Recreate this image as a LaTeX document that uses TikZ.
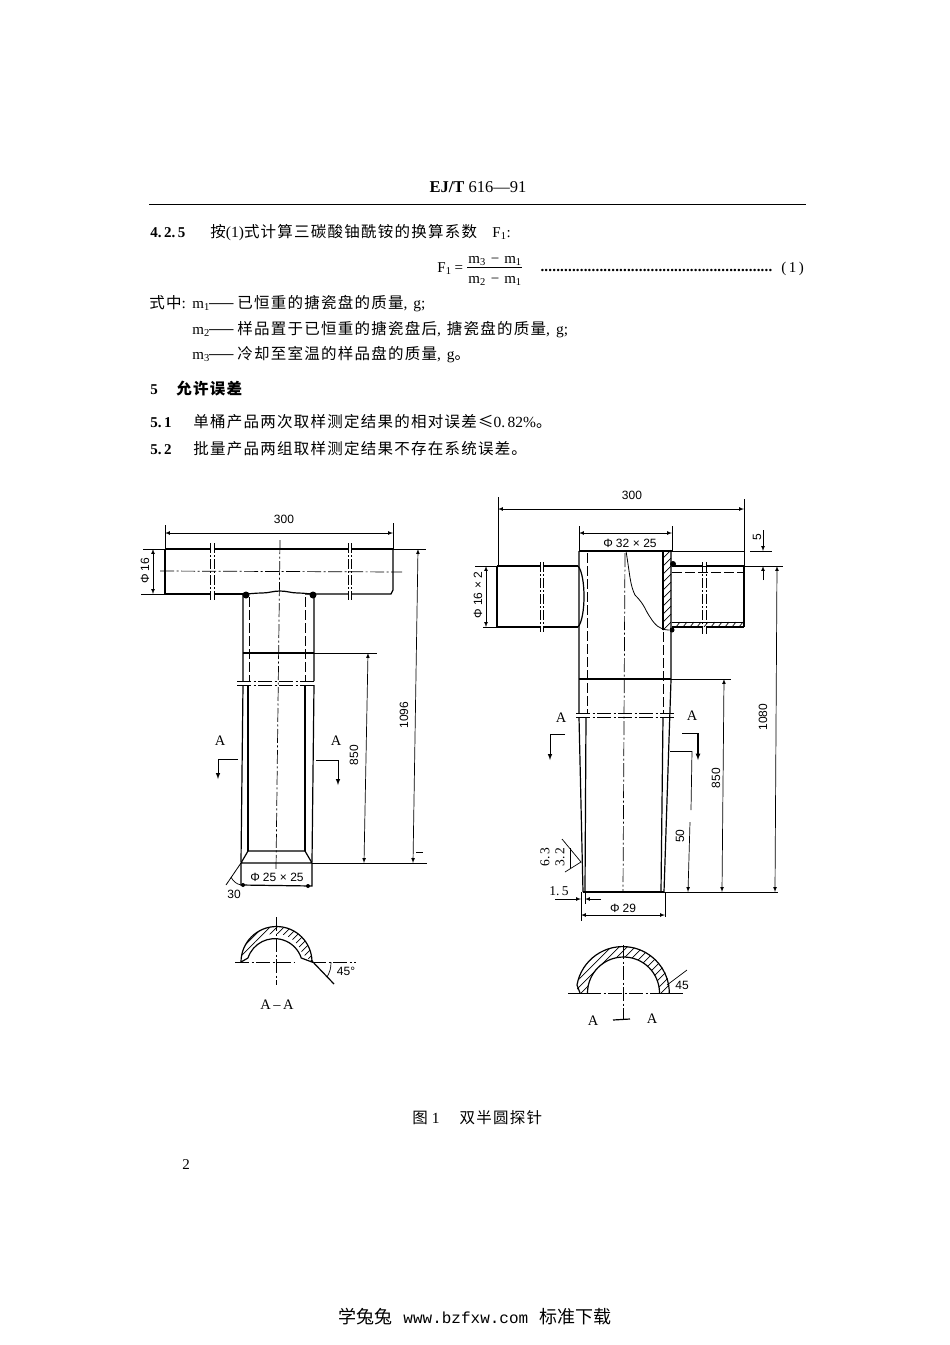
\documentclass[tikz,border=0pt]{standalone}
\usepackage{fontspec}
\setmainfont{Liberation Serif}
\setsansfont{Liberation Sans}
\setmonofont{Liberation Mono}
\newfontfamily\cjk[LetterSpace=8]{Noto Sans CJK SC}
\newfontfamily\cjkfoot{Noto Sans CJK SC}
\newcommand{\dotrow}[1]{\hbox to #1{\xleaders\hbox to 3.9pt{\hss.\hss}\hfill}}
\newcommand{\tm}{\hspace{3.5pt}×\hspace{3.5pt}}
\newcommand{\ph}{Φ\hspace{3pt}}
\newcommand{\gtail}{{\rmfamily ,\hspace{6pt}g}}
\newcommand{\smalld}[1]{{\rmfamily\fontsize{13.5}{13.5}\selectfont #1}}
\begin{document}
\begin{tikzpicture}[x=1pt,y=-1pt,line width=0.9pt]
      \tikzstyle{body}=[inner sep=0pt,anchor=base west,font=\fontsize{15.5}{15.5}\cjk]
      \tikzstyle{lat}=[inner sep=0pt,anchor=base west,font=\fontsize{15}{15}\rmfamily]
      \tikzstyle{dimtxt}=[inner sep=0pt,font=\fontsize{12}{12}\sffamily]
      \tikzstyle{seclab}=[inner sep=0pt,font=\fontsize{14.5}{14.5}\rmfamily]
      \tikzstyle{outline}=[line width=1.2pt]
      \tikzstyle{thinl}=[line width=0.7pt]
      \tikzstyle{dimline}=[line width=0.7pt,<->,>=latex]
      \tikzstyle{centre}=[line width=0.7pt,dash pattern=on 14pt off 2.5pt on 2pt off 2.5pt]
      \tikzstyle{hidden}=[line width=1pt,dash pattern=on 10pt off 3pt]
      \useasboundingbox (0,0) rectangle (950,1345);

      % page text
      \node[inner sep=0pt,font=\fontsize{16.5}{16.5}\rmfamily] (head) at (478,187) {\textbf{EJ/T} 616—91};
      \draw[line width=1pt] (149,204) -- (806,204);
      \foreach \name/\txt/\x/\y in {n425/\textbf{4.\,2.\,5}/150/237, n51/\textbf{5.\,1}/150/427, n52/\textbf{5.\,2}/150/454, n5/\textbf{5}/150/394, m1/m\textsubscript{1}/192/308, m2/m\textsubscript{2}/192/334, m3/m\textsubscript{3}/192/359, f1r/F\textsubscript{1}:/492/237, fl/F\textsubscript{1}\hspace{3pt}=/437/272, eq/(\,1\,)/781/272}
        \node[lat] (t-\name) at (\x,\y) {\txt};
      \foreach \name/\txt/\x/\y in {calc/按{\rmfamily(1)}式计算三碳酸铀酰铵的换算系数/210/237, where/式中{\rmfamily:}/149/308, w1/——\hspace{3pt}已恒重的搪瓷盘的质量\gtail{\rmfamily;}/208/308, w2/——\hspace{3pt}样品置于已恒重的搪瓷盘后{\rmfamily,\hspace{6pt}}搪瓷盘的质量\gtail{\rmfamily;}/208/334, w3/——\hspace{3pt}冷却至室温的样品盘的质量\gtail 。/208/359, s5/\textbf{允许误差}/176/394, s51/单桶产品两次取样测定结果的相对误差≤{\rmfamily 0.\,82\%}。/193/427, s52/批量产品两组取样测定结果不存在系统误差。/193/454, cap/图\hspace{4pt}{\rmfamily 1}\hspace{20pt}双半圆探针/412/1123}
        \node[body] (t-\name) at (\x,\y) {\txt};
      \node[inner sep=0pt,anchor=base west,font=\fontsize{18}{18}\cjkfoot] (t-foot) at (338,1323) {学兔兔\hspace{11pt}{\ttfamily\fontsize{16}{16}\selectfont www.bzfxw.com}\hspace{11pt}标准下载};
      \node[lat] (frac-top) at (468,263) {m\textsubscript{3}\hspace{5pt}−\hspace{5pt}m\textsubscript{1}};
      \node[lat] (frac-bot) at (468,283) {m\textsubscript{2}\hspace{5pt}−\hspace{5pt}m\textsubscript{1}};
      \draw[thinl] (467,267) -- (522,267);
      \node[lat] (leader) at (540,271) {\textbf{\dotrow{232pt}}};
      \node[lat] (page) at (182,1169) {2};

      % left probe: side pipe
      \draw[outline] (165,549) -- (210,549) (214,549) -- (348,549) (351,549) -- (393,549);
      \draw[outline] (165,594) -- (210,594) (214,594) -- (243,594);
      \draw[outline] (305,594) -- (348,594) (351,594) -- (391,594) -- (393,590) -- (393,549);
      \draw[outline] (165,549) -- (165,594);
      \draw[thinl] (143,549) -- (165,549) (393,549) -- (426,549) (141,594) -- (165,594);
      \foreach \x in {210,214,348,351}
        \draw[thinl,dash pattern=on 10pt off 2pt on 2pt off 2pt] (\x,543) -- (\x,600);
      \draw[centre] (160,571) -- (402,572);
      \draw[centre] (280,540) -- (276,870);
      % left probe: tube
      \draw[outline] (243,594) to[out=0,in=180] (262,593) to[out=0,in=180] (280,591) to[out=0,in=180] (298,593) to[out=0,in=180] (314,594);
      \fill (246,595) circle (3.5);
      \fill (313,595) circle (3.5);
      \draw[outline] (243,595) -- (243,681) (243,685) -- (241,862);
      \draw[outline] (314,595) -- (314,681) (314,685) -- (312,862);
      \draw[hidden] (249,597) -- (249,681) (305,597) -- (305,681);
      \draw[outline] (248,685) -- (248,851) (305,685) -- (305,851);
      \draw[outline] (243,653) -- (314,653);
      \draw[thinl] (314,653) -- (377,653);
      \draw[centre] (237,681) -- (315,681);
      \draw[centre] (237,685) -- (315,685);
      \draw[outline] (248,851) -- (305,851) -- (312,863) -- (241,863) -- cycle;
      \draw[thinl] (312,863) -- (427,863);
      \draw[outline] (241,863) -- (241,885) -- (312,886) -- (312,863);
      \fill (243,885) circle (2);
      \fill (308,886) circle (2);
      \draw[thick] (241,863) -- (226,885);
      \draw[thinl] (231,877) to[bend right=25] (241,885);
      % left probe: dimensions
      \draw[thinl] (165,525) -- (165,549) (393,523) -- (393,549);
      \draw[dimline] (165,533) -- (393,533);
      \draw[dimline] (153,549) -- (153,594);
      \draw[dimline] (368,653) -- (364,863);
      \draw[dimline] (418,549) -- (413,863);
      \draw[thinl] (416,852) -- (423,852);
      % left probe: section marks
      \draw[thinl] (238,759) -- (218,759);
      \draw[line width=1pt,->,>=latex] (218,759) -- (218,779);
      \draw[thinl] (316,760) -- (338,760);
      \draw[line width=1pt,->,>=latex] (338,760) -- (338,785);
      % left section A-A
      \begin{scope}
        \clip (241,962) arc[start angle=180,end angle=360,radius=35.5] -- (302,953) arc[start angle=-18,end angle=-162,radius=28] -- cycle;
        \foreach \c in {1190,1197,...,1290}
          \draw[thinl] (\c-900,900) -- (\c-1000,1000);
      \end{scope}
      \draw[outline] (241,962) arc[start angle=180,end angle=360,radius=35.5];
      \draw[outline] (248,958) arc[start angle=-162,end angle=-18,radius=28] -- (312,962);
      \draw[outline] (241,962) -- (248,958);
      \draw[centre] (276,917) -- (276,985);
      \draw[centre] (235,962) -- (295,962);
      \draw[centre] (312,962) -- (356,962);
      \draw[outline] (311,960) -- (334,984);
      \draw[thinl] (331,962) to[bend left=15] (327,977);

      % right probe: side pipes
      \draw[thinl] (475,566) -- (497,566);
      \draw[thinl] (483,627) -- (497,627);
      \draw[outline] (497,566) -- (540,566) (543,566) -- (578,566);
      \draw[outline] (497,627) -- (540,627) (543,627) -- (578,627);
      \draw[outline] (497,566) -- (497,627);
      \foreach \x in {540,543}
        \draw[thinl,dash pattern=on 10pt off 2pt on 2pt off 2pt] (\x,562) -- (\x,632);
      \draw[outline] (578,566) .. controls (586,575) and (586,618) .. (578,627);
      \draw[outline] (672,566) -- (702,566) (706,566) -- (744,566);
      \draw[hidden] (672,572) -- (744,572);
      \draw[outline] (672,627) -- (702,627) (706,627) -- (744,627);
      \draw[thinl] (672,622) -- (744,622);
      \draw[thinl] (744,551) -- (744,566);
      \draw[outline] (744,566) -- (744,627);
      \foreach \x in {702,706}
        \draw[thinl,dash pattern=on 10pt off 2pt on 2pt off 2pt] (\x,562) -- (\x,634);
      \foreach \x in {676,683,...,739}
        \draw[thinl] (\x,627) -- ++(4,-5);
      \draw[outline] (579,551) -- (672,551);
      \draw[thinl] (672,551) -- (744,551);
      \draw[thinl] (672,566) -- (783,566) (750,551) -- (772,551);
      \fill (673,564) circle (3);
      \fill (672,630) circle (2.5);
      % right probe: tube wall and break line
      \draw[outline] (663,551) -- (663,630);
      \draw[outline] (671,551) -- (671,680) -- (668,770) -- (664,892);
      \foreach \y in {558,566,...,630}
        \draw[thinl] (663,\y) -- ++(8,-8);
      \draw[line width=0.8pt] (626,551) .. controls (630,575) and (630,585) .. (635,595) .. controls (645,605) and (645,610) .. (650,617) .. controls (655,625) and (660,630) .. (669,630);
      \draw[outline] (579,551) -- (579,713) (579,717) -- (583,892);
      \draw[hidden] (587,553) -- (587,713);
      \draw[outline] (586,717) -- (585,892);
      \draw[hidden] (663,632) -- (663,713);
      \draw[outline] (663,717) -- (661,892);
      \draw[outline] (579,679) -- (671,679);
      \draw[thinl] (671,679) -- (731,679);
      \draw[centre] (625,553) -- (623,892);
      \draw[centre] (576,713) -- (675,713);
      \draw[centre] (576,717) -- (675,717);
      \draw[outline] (583,892) -- (664,892);
      \draw[thinl] (664,892) -- (778,892);
      \draw[thinl] (670,751) -- (692,751);
      % right probe: dimensions
      \draw[thinl] (498,497) -- (498,566) (744,499) -- (744,551) (579,526) -- (579,551) (672,526) -- (672,551);
      \draw[dimline] (498,509) -- (744,509);
      \draw[dimline] (579,533) -- (672,533);
      \draw[dimline] (486,566) -- (486,627);
      \draw[line width=0.7pt,->,>=latex] (763,530) -- (763,551);
      \draw[line width=0.7pt,->,>=latex] (763,580) -- (763,566);
      \draw[dimline] (724,679) -- (722,892);
      \draw[dimline] (777,566) -- (775,892);
      \draw[thinl] (692,751) -- (691,810);
      \draw[line width=0.7pt,->,>=latex] (690,822) -- (688,892);
      \draw[thinl] (581,892) -- (581,921) (665,892) -- (665,917) (585,892) -- (585,904);
      \draw[dimline] (581,915) -- (665,915);
      \draw[line width=0.7pt,->,>=latex] (555,899) -- (581,899);
      \draw[line width=0.7pt,->,>=latex] (601,899) -- (585,899);
      % right probe: section marks and roughness sign
      \draw[thinl] (565,734) -- (550,734);
      \draw[line width=1pt,->,>=latex] (550,734) -- (550,760);
      \draw[thinl] (682,733) -- (698,733);
      \draw[line width=1.2pt,->,>=latex] (698,733) -- (698,760);
      \draw[thinl] (562,839) -- (581,862) -- (565,872);
      \draw[thinl] (570,848) -- (570,868);
      % right section
      \begin{scope}
        \clip (577,993) arc[start angle=180,end angle=360,radius=46.5] -- (659.5,993) arc[start angle=0,end angle=-180,radius=36] -- cycle;
        \foreach \c in {1550,1558,...,1670}
          \draw[thinl] (\c-900,900) -- (\c-1050,1050);
      \end{scope}
      \draw[outline] (580,993) -- (577,985) arc[start angle=190,end angle=360,radius=46.5];
      \draw[outline] (587.5,993) arc[start angle=180,end angle=360,radius=36];
      \draw[thinl] (568,993) -- (587,993) (659,993) -- (683,993);
      \draw[centre] (587,993) -- (659,993);
      \draw[centre] (623,945) -- (623,1020);
      \draw[outline] (613,1020) -- (630,1019);
      \draw[thinl] (667,985) -- (687,970);

      % drawing labels
      \foreach \name/\txt/\x/\y in {l300/300/284/519, lphi/\ph 25\tm 25/277/877, l30/30/234/894, l45/45°/346/971, r300/300/632/495, rphi/\ph 32\tm 25/630/543, rphib/Φ\hspace{3pt}29/623/908, r15/\smalld{1.\,5}/559/891, r45/45/682/985}
        \node[dimtxt] (lab-\name) at (\x,\y) {\txt};
      \foreach \name/\txt/\x/\y in {l16/\ph 16/145/571, l1096/1096/404/715, l850/850/354/755, r16/\ph 16\tm 2/478/595, r5/5/757/537, r1080/1080/763/717, r850/850/716/778, r50/50/680/836, r63/\smalld{6.\,3}/545/857, r32/\smalld{3.\,2}/560/857}
        \node[dimtxt,rotate=90] (lab-\name) at (\x,\y) {\txt};
      \foreach \name/\txt/\x/\y in {aa/A/220/741, ab/A/336/741, asec/A\,–\,A/277/1005, ba/A/561/718, bb/A/692/716, bc/A/593/1021, bd/A/652/1019}
        \node[seclab] (sec-\name) at (\x,\y) {\txt};
    \end{tikzpicture}
\end{document}
